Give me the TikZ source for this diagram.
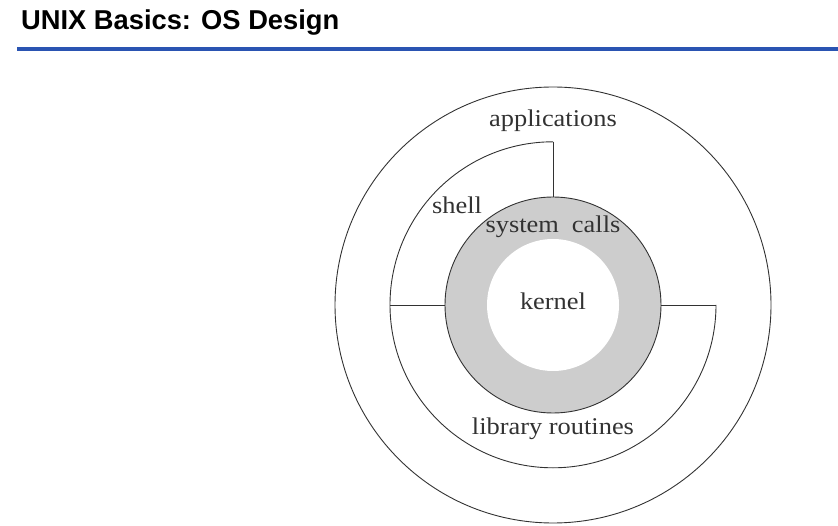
\documentclass[tikz,border=0pt]{standalone}
\usepackage{fontspec}
\setmainfont{Liberation Serif}[FakeStretch=1.1]
\newfontfamily\titlefont{Liberation Sans}
\usetikzlibrary{calc}
\definecolor{titleblue}{RGB}{42,84,178}
\definecolor{ringgray}{RGB}{205,205,205}
\definecolor{inkgray}{RGB}{50,50,50}
\tikzset{
  ringline/.style={draw=inkgray, line width=0.9pt},
  lbl/.style={text=inkgray, font=\fontsize{24}{28}\selectfont, inner sep=0pt, anchor=base},
  disc/.style={circle, inner sep=0pt, minimum size=#1}
}
\begin{document}
\begin{tikzpicture}[x=1pt,y=1pt]
\useasboundingbox (0,0) rectangle (838,525);
\node[anchor=base west, inner sep=0pt, font=\titlefont\bfseries\fontsize{27.3}{30}\selectfont] (title) at (21,495) {UNIX Basics: OS Design};
\coordinate (barL) at (17,476);
\coordinate (barR) at (838,476);
\draw[titleblue, line width=3.6pt] (barL) -- (barR);

\coordinate (c) at (553,220);
\node[disc=436pt, ringline] (outer) at (c) {};
\node[disc=326pt] (mid) at (c) {};
\node[disc=216pt, ringline, fill=ringgray] (sys) at (c) {};
\node[disc=132pt, fill=white] (kern) at (c) {};

\draw[ringline] (mid.north) arc[start angle=90, end angle=360, radius=163pt];
\draw[ringline] (mid.north) -- (sys.north);
\draw[ringline] (mid.west) -- (sys.west);
\draw[ringline] (sys.east) -- (mid.east);

\node[lbl] (apps) at (553,398) {applications};
\node[lbl] (shell) at (457,311) {shell};
\node[lbl] (calls) at (553,292) {system\hspace{13pt}calls};
\node[lbl] (kernel) at (553,215) {kernel};
\node[lbl] (lib) at (553,91) {library routines};
\end{tikzpicture}
\end{document}
